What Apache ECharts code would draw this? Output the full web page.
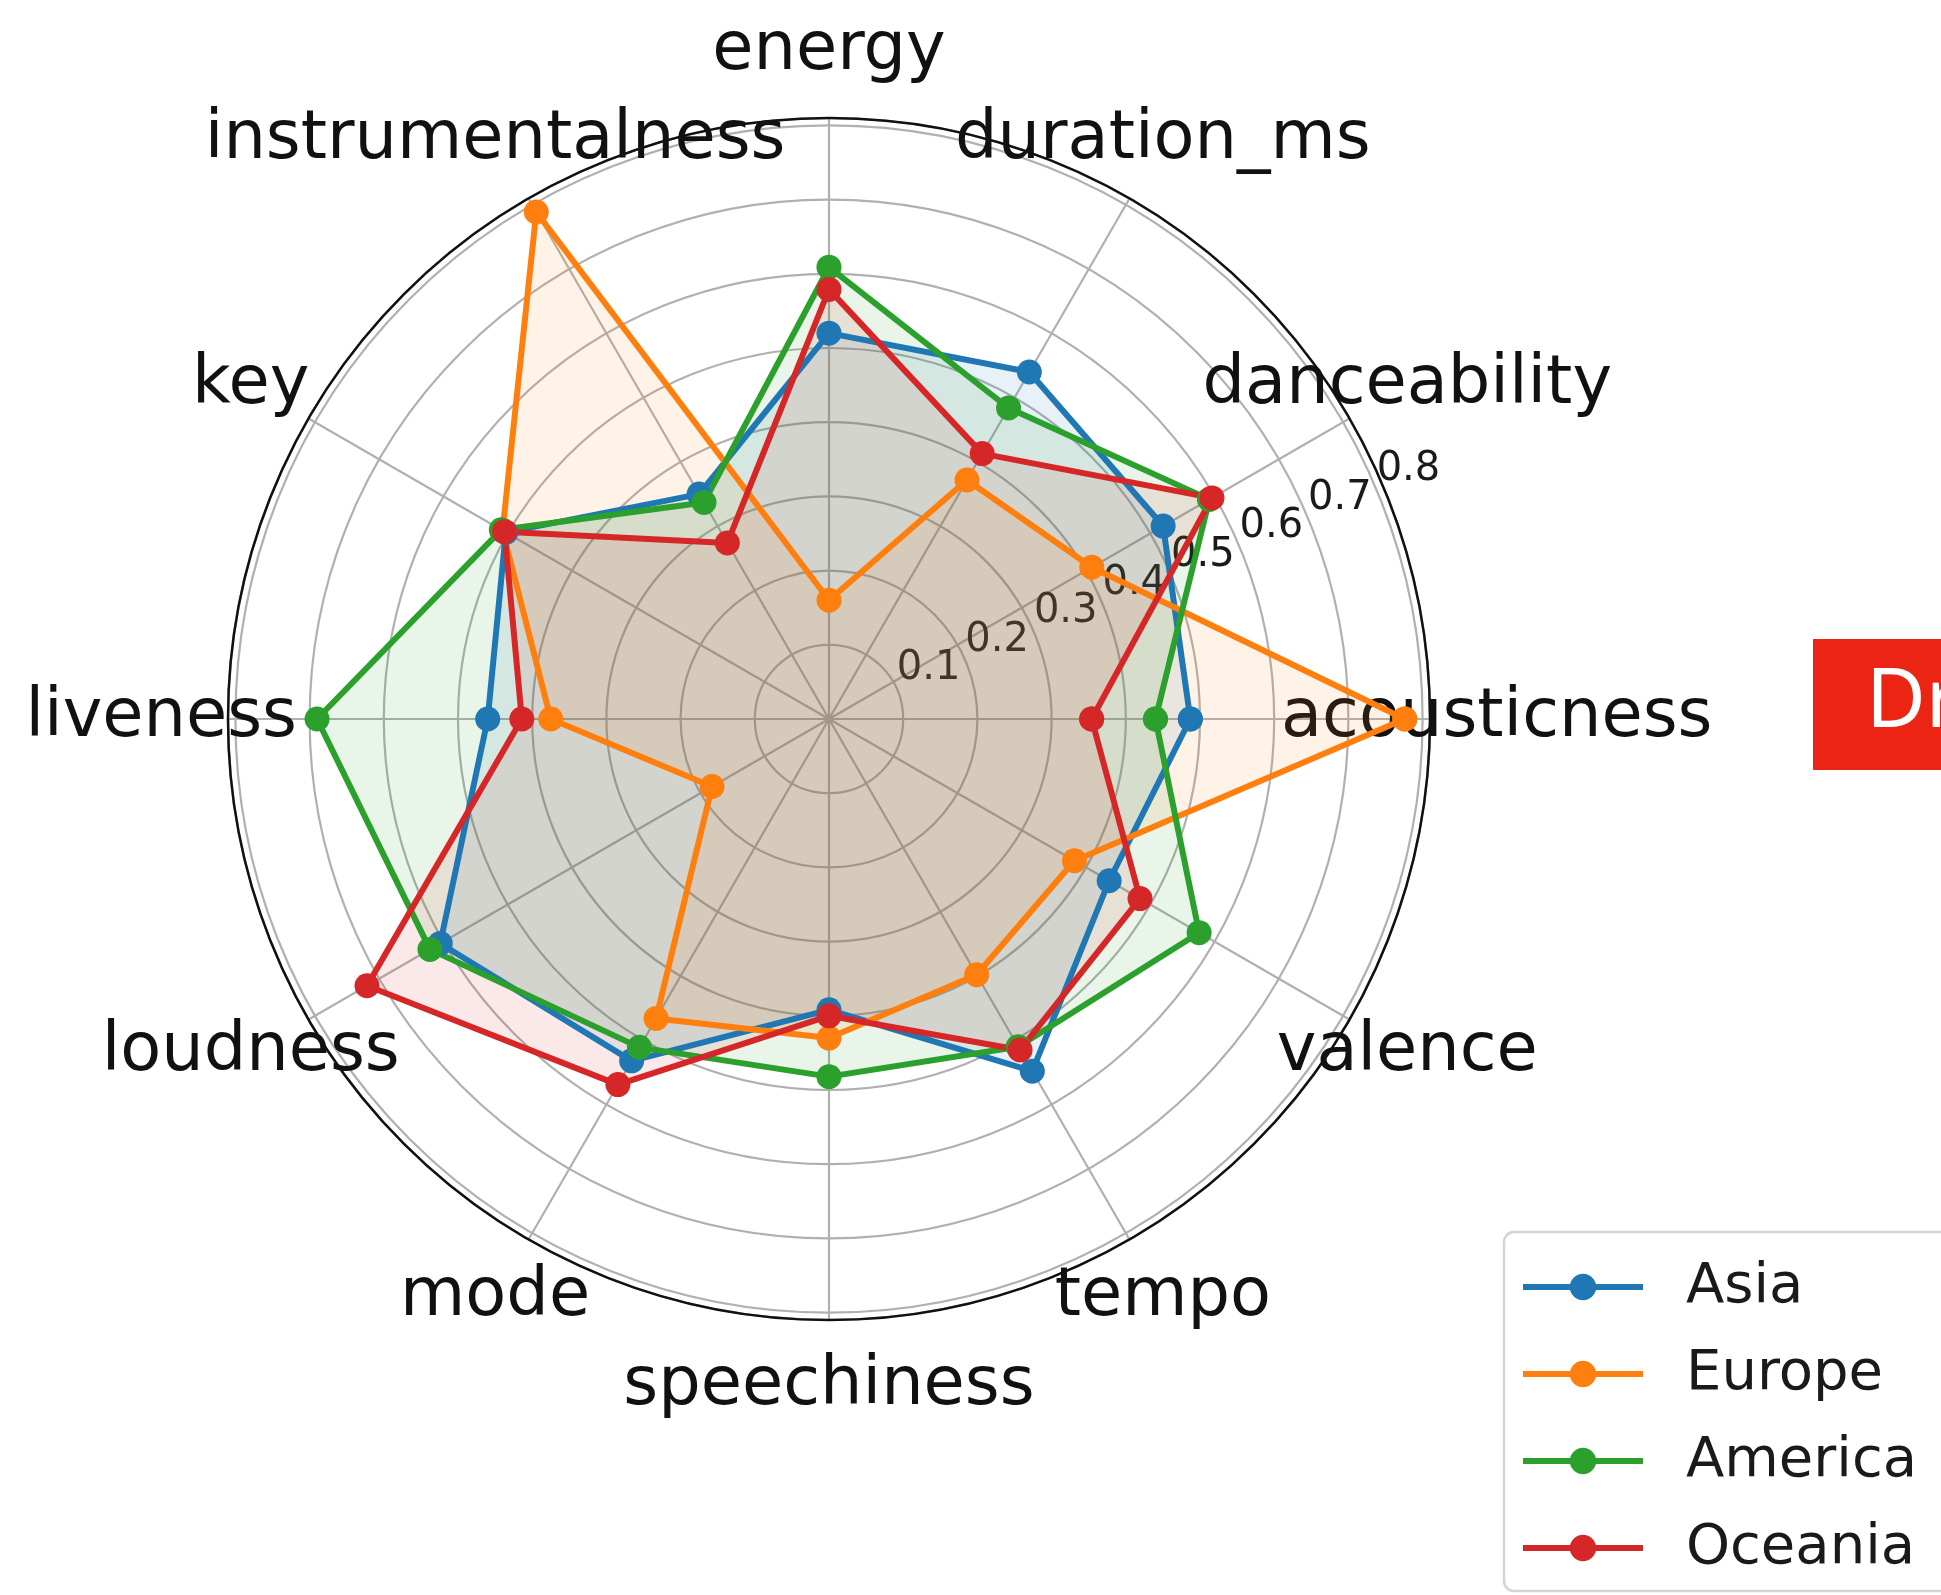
<!DOCTYPE html>
<html>
<head>
<meta charset="utf-8">
<title>Audio features by region</title>
<script src="https://cdn.jsdelivr.net/npm/echarts@6/dist/echarts.min.js"></script>
<style>
  html, body { margin: 0; padding: 0; background: #fff; }
  #chart { width: 1941px; height: 1595px; }
</style>
</head>
<body>
<div id="chart"></div>
<script>
// categories, counter-clockwise from the right (matplotlib polar order)
const CATEGORIES = ['acousticness', 'danceability', 'duration_ms', 'energy', 'instrumentalness', 'key',
  'liveness', 'loudness', 'mode', 'speechiness', 'tempo', 'valence']
const ANGLES = [0, 30, 60, 90, 120, 150, 180, 210, 240, 270, 300, 330]

const REGIONS = ['Asia', 'Europe', 'America', 'Oceania']
const ASIA = [0.487, 0.520, 0.540, 0.520, 0.350, 0.503, 0.460, 0.605, 0.532, 0.392, 0.548, 0.436]
const EUROPE = [0.776, 0.409, 0.372, 0.160, 0.789, 0.508, 0.375, 0.182, 0.466, 0.430, 0.398, 0.382]
const AMERICA = [0.440, 0.592, 0.484, 0.609, 0.337, 0.510, 0.690, 0.621, 0.511, 0.482, 0.510, 0.576]
const OCEANIA = [0.354, 0.596, 0.413, 0.579, 0.274, 0.505, 0.414, 0.719, 0.569, 0.400, 0.515, 0.484]

const R_TICKS = [0.1, 0.2, 0.3, 0.4, 0.5, 0.6, 0.7, 0.8]
const R_TICK_LABELS = ['0.1', '0.2', '0.3', '0.4', '0.5', '0.6', '0.7', '0.8']
const R_MAX = 0.81

const COLORS = ['#1f77b4', '#ff7f0e', '#2ca02c', '#d62728']
const FONT = 'DejaVu Sans'
const TEXT = '#1a1a1a'
const CENTER = [829, 719]
const RADIUS = 601
const LABEL_R = 0.9 // where the category names sit, in radius units

const seriesValues = [ASIA, EUROPE, AMERICA, OCEANIA]

function toPolar (values) {
  const pts = values.map((v, i) => [v, ANGLES[i]])
  pts.push([values[0], 360]) // close the loop
  return pts
}

const areaSeries = REGIONS.map((name, k) => ({
  name: name + ' fill',
  type: 'line',
  coordinateSystem: 'polar',
  polarIndex: 0,
  data: toPolar(seriesValues[k]),
  symbol: 'none',
  silent: true,
  lineStyle: { width: 0, opacity: 0 },
  areaStyle: { color: COLORS[k], opacity: 0.1 },
  z: 2
}))

const lineSeries = REGIONS.map((name, k) => ({
  name: name,
  type: 'line',
  coordinateSystem: 'polar',
  polarIndex: 0,
  data: toPolar(seriesValues[k]),
  symbol: 'circle',
  symbolSize: 25,
  color: COLORS[k],
  lineStyle: { width: 6, color: COLORS[k] },
  itemStyle: { color: COLORS[k] },
  z: 3
}))

const nameSeries = {
  type: 'scatter',
  coordinateSystem: 'polar',
  polarIndex: 0,
  silent: true,
  clip: false,
  symbol: 'circle',
  symbolSize: 1,
  itemStyle: { color: 'rgba(255,255,255,0)' },
  data: CATEGORIES.map((c, i) => ({ name: c, value: [LABEL_R, ANGLES[i]] })),
  label: {
    show: true,
    position: 'inside',
    formatter: '{b}',
    align: 'center',
    verticalAlign: 'middle',
    color: '#111',
    opacity: 1,
    textBorderWidth: 0,
    fontFamily: FONT,
    fontSize: 67
  },
  z: 1
}

const chart = echarts.init(document.getElementById('chart'))
chart.setOption({
  backgroundColor: '#fff',
  animation: false,
  color: COLORS,
  polar: [
    { center: CENTER, radius: RADIUS },
    { center: CENTER, radius: RADIUS }
  ],
  angleAxis: [
    {
      polarIndex: 0,
      type: 'value',
      min: 0,
      max: 360,
      interval: 30,
      startAngle: 0,
      clockwise: false,
      axisLine: { show: true, lineStyle: { color: '#111', width: 2.5 } },
      axisTick: { show: false },
      axisLabel: { show: false },
      splitLine: { show: true, lineStyle: { color: '#b0b0b0', width: 2.2 } }
    },
    {
      polarIndex: 1,
      type: 'value',
      min: 0,
      max: 360,
      startAngle: 22.5,
      clockwise: false,
      show: false
    }
  ],
  radiusAxis: [
    {
      polarIndex: 0,
      type: 'value',
      min: 0,
      max: R_MAX,
      interval: 0.1,
      axisLine: { show: false },
      axisTick: { show: false },
      axisLabel: { show: false },
      splitLine: { show: true, lineStyle: { color: '#b0b0b0', width: 2.2 } }
    },
    {
      polarIndex: 1,
      type: 'value',
      min: 0,
      max: R_MAX,
      interval: 0.1,
      axisLine: { show: false },
      axisTick: { show: false },
      splitLine: { show: false },
      axisLabel: {
        show: true,
        margin: 2,
        align: 'left',
        verticalAlign: 'bottom',
        color: TEXT,
        fontFamily: FONT,
        fontSize: 40,
        formatter: function (v) {
          const i = R_TICKS.findIndex(t => Math.abs(t - v) < 1e-6)
          return i >= 0 ? R_TICK_LABELS[i] : ''
        }
      }
    }
  ],
  legend: {
    data: REGIONS,
    orient: 'vertical',
    left: 1504,
    top: 1232,
    itemWidth: 120,
    itemHeight: 33,
    itemGap: 31,
    padding: [27, 60, 15, 16],
    backgroundColor: '#fff',
    borderColor: '#d4d4d4',
    borderWidth: 2.5,
    borderRadius: 10,
    lineStyle: { width: 6 },
    textStyle: {
      color: TEXT,
      fontFamily: FONT,
      fontSize: 56,
      lineHeight: 56,
      padding: [0, 0, 0, 38]
    }
  },
  graphic: [
    {
      type: 'rect',
      shape: { x: 1813, y: 639, width: 200, height: 131 },
      style: { fill: '#ec2413' },
      z: 10
    },
    {
      type: 'text',
      x: 1866,
      y: 704,
      style: {
        text: 'Dr',
        fill: '#fff',
        fontFamily: 'Noto Sans',
        fontSize: 82,
        verticalAlign: 'middle'
      },
      z: 11
    }
  ],
  series: [].concat(areaSeries, lineSeries, [nameSeries])
})
</script>
</body>
</html>
